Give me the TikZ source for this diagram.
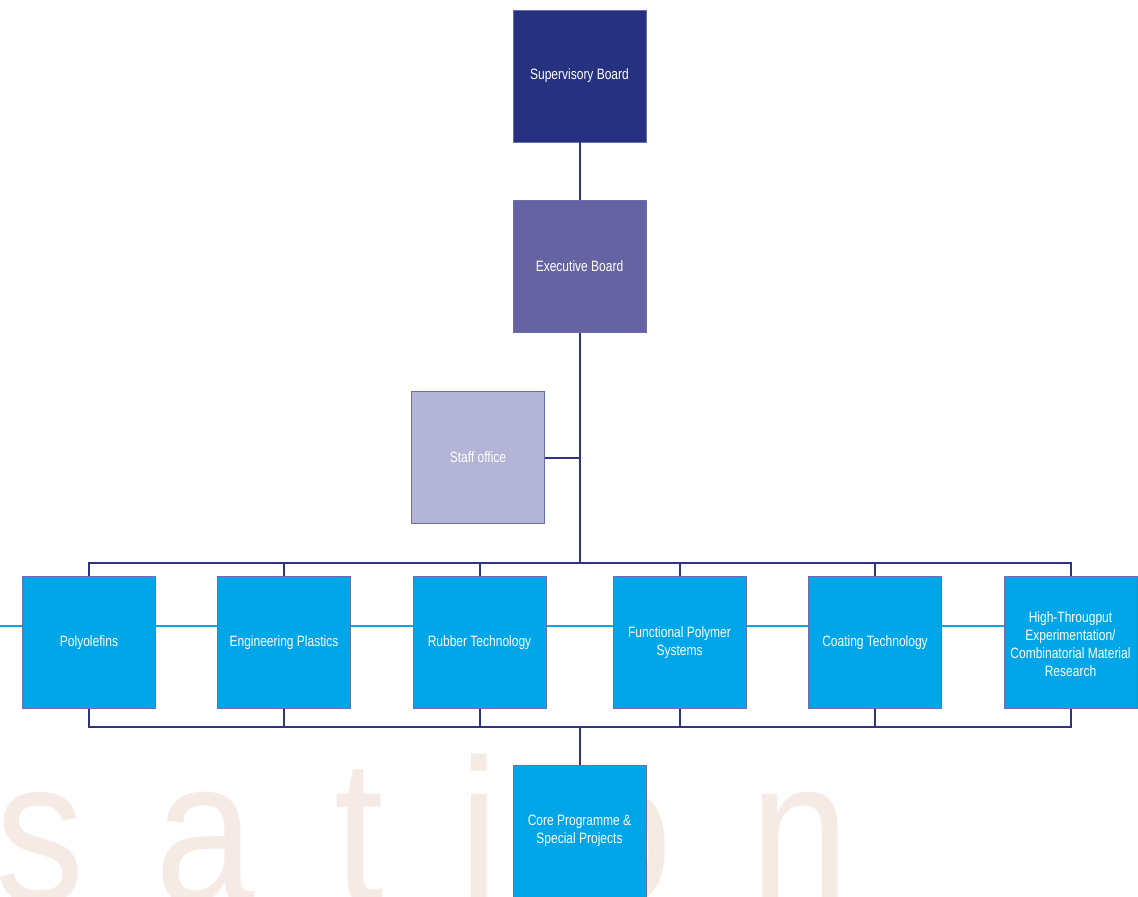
\documentclass[tikz,border=0pt]{standalone}
\usepackage{fontspec}
\setmainfont{Liberation Sans}[FakeStretch=0.8]
\newfontfamily\markfont{Liberation Sans}[FakeStretch=0.87]
\usepackage{tikz}
\usetikzlibrary{calc}
\definecolor{supcol}{HTML}{263280}
\definecolor{execol}{HTML}{6663A2}
\definecolor{staffcol}{HTML}{B4B4D7}
\definecolor{unitcol}{HTML}{00A6E7}
\definecolor{linkcol}{HTML}{2E3583}
\definecolor{edgecol}{HTML}{6A6EB0}
\definecolor{railcol}{HTML}{0AA5E3}
\definecolor{markcol}{HTML}{F6EAE5}

\begin{document}
\begin{tikzpicture}[x=1pt, y=-1pt,
        box/.style={draw=edgecol, line width=0.8pt, minimum width=133pt, minimum height=132pt,
          inner sep=2pt, align=center, text=white, font=\fontsize{15}{18}\selectfont},
        board/.style={box, fill=supcol},
        exec/.style={box, fill=execol},
        staff/.style={box, fill=staffcol},
        unit/.style={box, fill=unitcol},
        link/.style={draw=linkcol, line width=2pt},
        rail/.style={draw=railcol, line width=1.2pt},
        wmark/.style={anchor=base, inner sep=0pt, text=markcol, font=\markfont\fontsize{205}{205}\selectfont}]

        \useasboundingbox (0,0) rectangle (1138,897);

        % watermark
        \node[wmark] (wm-s) at (40,902) {s};
        \node[wmark] (wm-a) at (205,902) {a};
        \node[wmark] (wm-t) at (359,902) {t};
        \node[wmark] (wm-i) at (479,902) {i};
        \node[wmark] (wm-o) at (623,902) {o};
        \node[wmark] (wm-n) at (800,902) {n};

        % light rail through the units
        \coordinate (railL) at (0,626);
        \coordinate (railR) at (1138,626);
        \draw[rail] (railL) -- (railR);

        % boards
        \node[board] (sup) at (579.5,76) {Supervisory Board};
        \node[exec] (exe) at (579.5,266.5) {Executive Board};
        \node[staff] (staff) at (478,457.5) {Staff office};

        % units
        \node[unit] (poly) at (89,642.5) {Polyolefins};
        \node[unit] (eng) at (284,642.5) {Engineering Plastics};
        \node[unit] (rub) at (479.5,642.5) {Rubber Technology};
        \node[unit] (func) at (679.5,642.5) {Functional Polymer\\Systems};
        \node[unit] (coat) at (875,642.5) {Coating Technology};
        \node[unit] (hte) at (1070.5,642.5) {\mbox{}\\[-4pt]High-Througput\\Experimentation/\\Combinatorial Material\\Research};
        \node[unit] (core) at (579.5,831) {Core Programme \&\\Special Projects};

        % connectors
        \coordinate (topbus) at (579.5,563);
        \coordinate (botbus) at (579.5,727);
        \draw[link] (sup.south) -- (exe.north);
        \draw[link] (exe.south) -- (topbus);
        \draw[link] (staff.east) -- (staff.east -| topbus);
        \draw[link] (poly.north) |- (hte.north |- topbus) -- (hte.north);
        \draw[link] (poly.south) |- (hte.south |- botbus) -- (hte.south);
        \foreach \u in {eng,rub,func,coat}{
          \draw[link] (\u.north) -- (\u.north |- topbus);
          \draw[link] (\u.south) -- (\u.south |- botbus);
        }
        \draw[link] (botbus) -- (core.north);
\end{tikzpicture}
\end{document}
